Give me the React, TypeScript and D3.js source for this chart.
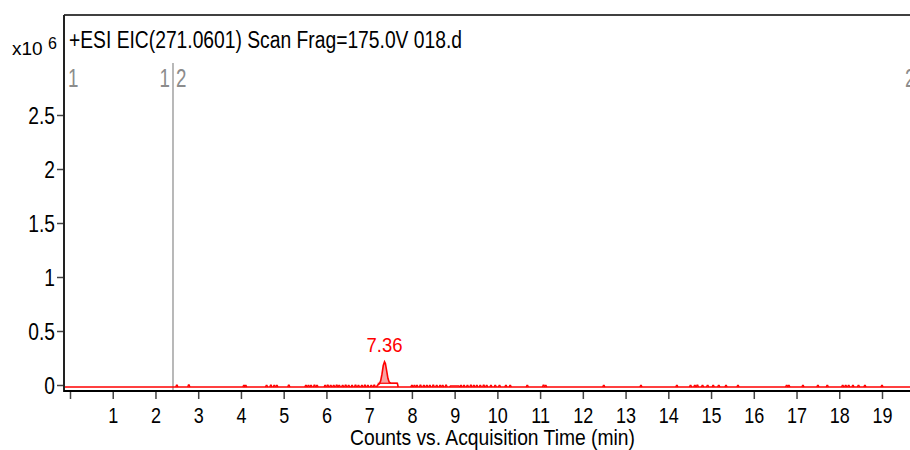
import React, { useEffect, useRef } from 'react';
import * as d3 from 'd3';

// retention time axis (min)
const xTickValues = [0, 1, 2, 3, 4, 5, 6, 7, 8, 9, 10, 11, 12, 13, 14, 15, 16, 17, 18, 19];
const xTickLabels = ['', '1', '2', '3', '4', '5', '6', '7', '8', '9', '10', '11', '12', '13', '14', '15', '16', '17', '18', '19'];

// counts axis (x10^6)
const yTickValues = [0, 0.5, 1, 1.5, 2, 2.5];
const yTickLabels = ['0', '0.5', '1', '1.5', '2', '2.5'];

const baselineLevel = -0.018;

// small noise spikes on the baseline (time, counts x10^6)
const noiseTimes = [
  2.5, 2.78, 4.07, 4.11, 4.6, 4.7, 4.78, 4.84, 5.12, 5.52, 5.58, 5.64, 5.72, 5.78,
  5.97, 6.03, 6.1, 6.17, 6.24, 6.3, 6.38, 6.45, 6.52, 6.6, 6.68, 6.75, 6.83, 6.9,
  6.97, 7.05, 7.12, 8.0, 8.06, 8.12, 8.2, 8.28, 8.35, 8.42, 8.5, 8.58, 8.66, 8.72,
  8.8, 9.15, 9.22, 9.3, 9.38, 9.45, 9.52, 9.6, 9.68, 9.75, 9.85, 9.95, 10.05, 10.2,
  10.3, 10.7, 11.08, 11.13, 12.49, 13.36, 14.2, 14.52, 14.62, 14.68, 14.8, 14.92,
  15.05, 15.18, 15.35, 15.63, 16.77, 16.82, 17.15, 17.5, 17.72, 18.08, 18.15, 18.22,
  18.32, 18.45, 18.6, 19.0,
];
const noiseCounts = [
  -0.002, 0.001, -0.003, -0.004, -0.004, -0.002, -0.003, -0.004, -0.002, -0.004, -0.003, -0.004, -0.002, -0.004,
  -0.004, -0.002, -0.003, -0.004, -0.002, -0.003, -0.004, -0.002, -0.003, -0.004, -0.002, -0.004, -0.003, -0.002,
  -0.004, -0.003, -0.002, -0.004, -0.003, -0.004, -0.002, -0.004, -0.003, -0.004, -0.002, -0.004, -0.003, -0.004,
  -0.002, -0.004, -0.003, -0.004, -0.002, -0.004, -0.003, -0.004, -0.002, -0.004, -0.003, -0.004, -0.003, -0.004,
  -0.004, -0.004, -0.002, -0.004, -0.004, -0.004, -0.004, -0.003, -0.004, -0.002, -0.004, -0.003,
  -0.004, -0.003, -0.004, -0.004, -0.003, -0.004, -0.004, -0.004, -0.004, -0.003, -0.004, -0.003,
  -0.004, -0.003, -0.004, -0.004,
];

// small raised shelf 8.9 - 9.1 min
const shelfTimes = [8.88, 8.9, 9.1, 9.12];
const shelfCounts = [-0.018, -0.008, -0.008, -0.018];

// the 7.36 min peak
const peakTimes = [7.17, 7.2, 7.24, 7.27, 7.3, 7.33, 7.36, 7.38, 7.41, 7.44, 7.47, 7.5, 7.66, 7.68];
const peakCounts = [-0.018, 0.0, 0.012, 0.04, 0.1, 0.18, 0.215, 0.2, 0.13, 0.06, 0.025, 0.018, 0.016, -0.018];
const integrationStart = 7.2;
const integrationEnd = 7.66;
const integrationLevel = 0.016;
const peakLabel = '7.36';
const peakApex = 7.36;

// MS segment boundary
const segmentBoundary = 2.41;

const font = "'Liberation Sans', Arial, sans-serif";

export default function App() {
  const svgRef = useRef<SVGSVGElement>(null);

  useEffect(() => {
    document.body.style.margin = '0';
    const svg = d3.select(svgRef.current);
    svg.selectAll('*').remove();

    const width = 910;
    const height = 450;
    const left = 64;
    const right = 916;
    const top = 15;
    const bottom = 391;

    const x = d3.scaleLinear().domain([0, 19]).range([70, 882]);
    const y = d3.scaleLinear().domain([0, 2.5]).range([385, 115]);

    svg.attr('width', width).attr('height', height).style('font-family', font);

    svg.append('rect').attr('width', width).attr('height', height).attr('fill', '#fff');

    svg.append('defs').append('clipPath').attr('id', 'plot-clip')
      .append('rect')
      .attr('x', left).attr('y', top)
      .attr('width', right - left).attr('height', bottom - top);

    const plot = svg.append('g').attr('clip-path', 'url(#plot-clip)');

    // condensed text: horizontal squeeze around the anchor point
    const narrowText = (
      parent: d3.Selection<any, unknown, null, undefined>,
      tx: number, ty: number, label: string, size: number, k: number,
      anchor = 'start', fill = '#000'
    ) =>
      parent.append('text')
        .attr('transform', `translate(${tx},${ty}) scale(${k},1)`)
        .attr('text-anchor', anchor)
        .attr('font-size', size)
        .attr('fill', fill)
        .text(label);

    // segment boundary
    plot.append('line')
      .attr('x1', x(segmentBoundary)).attr('x2', x(segmentBoundary))
      .attr('y1', 63).attr('y2', bottom)
      .attr('stroke', '#8a8a8a').attr('stroke-width', 1.2);

    const segGray = '#8c8c8c';
    narrowText(plot, left + 4, 87, '1', 25, 0.75, 'start', segGray);
    narrowText(plot, x(segmentBoundary) - 3, 87, '1', 25, 0.75, 'end', segGray);
    narrowText(plot, x(segmentBoundary) + 3, 87, '2', 25, 0.75, 'start', segGray);
    narrowText(plot, 905, 87, '2', 25, 0.75, 'start', segGray);

    // baseline trace
    plot.append('line')
      .attr('x1', left).attr('x2', right)
      .attr('y1', y(baselineLevel)).attr('y2', y(baselineLevel))
      .attr('stroke', 'red').attr('stroke-width', 1.6);

    const line = d3.line<[number, number]>()
      .x(d => x(d[0]))
      .y(d => y(d[1]));

    // noise spikes
    noiseTimes.forEach((t, i) => {
      const pts: [number, number][] = [
        [t - 0.025, baselineLevel],
        [t - 0.01, noiseCounts[i]],
        [t + 0.01, noiseCounts[i]],
        [t + 0.025, baselineLevel],
      ];
      plot.append('path')
        .attr('d', line(pts))
        .attr('fill', 'none')
        .attr('stroke', 'red')
        .attr('stroke-width', 1.3);
    });

    plot.append('path')
      .datum(shelfTimes.map((t, i) => [t, shelfCounts[i]] as [number, number]))
      .attr('d', line)
      .attr('fill', 'none')
      .attr('stroke', 'red')
      .attr('stroke-width', 1.3);

    // peak fill
    const peakPts = peakTimes.map((t, i) => [t, peakCounts[i]] as [number, number]);
    const fillPts = peakPts.filter(d => d[0] >= integrationStart && d[0] <= integrationEnd);
    const area = d3.area<[number, number]>()
      .x(d => x(d[0]))
      .y0(y(integrationLevel))
      .y1(d => y(Math.max(d[1], integrationLevel)));
    plot.append('path')
      .datum(fillPts)
      .attr('d', area)
      .attr('fill', '#f6a3a3');

    plot.append('line')
      .attr('x1', x(integrationStart)).attr('x2', x(integrationEnd))
      .attr('y1', y(integrationLevel)).attr('y2', y(integrationLevel))
      .attr('stroke', 'red').attr('stroke-width', 1.2);

    plot.append('path')
      .datum(peakPts)
      .attr('d', line)
      .attr('fill', 'none')
      .attr('stroke', 'red')
      .attr('stroke-width', 1.6);

    const apexIdx = d3.maxIndex(peakCounts);
    narrowText(plot, x(peakApex), y(peakCounts[apexIdx]) - 10, peakLabel, 21, 0.88, 'middle', 'red');

    // frame
    svg.append('line').attr('x1', left).attr('x2', width).attr('y1', top).attr('y2', top)
      .attr('stroke', '#000').attr('stroke-width', 1.5);
    svg.append('line').attr('x1', left).attr('x2', left).attr('y1', top).attr('y2', bottom + 1)
      .attr('stroke', '#222').attr('stroke-width', 2);
    svg.append('line').attr('x1', left).attr('x2', width).attr('y1', bottom).attr('y2', bottom)
      .attr('stroke', '#000').attr('stroke-width', 2);

    // x axis
    const xAxis = svg.append('g')
      .attr('transform', `translate(0,${bottom + 1})`)
      .call(
        d3.axisBottom(x)
          .tickValues(xTickValues)
          .tickSize(7)
          .tickFormat((d, i) => xTickLabels[i])
      );
    xAxis.select('.domain').remove();
    xAxis.selectAll('line').attr('stroke', '#444').attr('stroke-width', 1.5);
    xAxis.selectAll('text')
      .attr('y', null)
      .attr('dy', null)
      .attr('transform', 'translate(0,31) scale(0.8,1)')
      .attr('font-size', 22.5)
      .attr('font-family', font)
      .attr('fill', '#000');

    // y axis
    const yAxis = svg.append('g')
      .attr('transform', `translate(${left - 1},0)`)
      .call(
        d3.axisLeft(y)
          .tickValues(yTickValues)
          .tickSize(6)
          .tickFormat((d, i) => yTickLabels[i])
      );
    yAxis.select('.domain').remove();
    yAxis.selectAll('line').attr('stroke', '#444').attr('stroke-width', 1.5);
    yAxis.selectAll('text')
      .attr('x', null)
      .attr('dy', null)
      .attr('transform', 'translate(-8,8.5) scale(0.8,1)')
      .attr('font-size', 24)
      .attr('font-family', font)
      .attr('fill', '#000');

    // titles
    svg.append('text')
      .attr('x', 69).attr('y', 48)
      .attr('font-size', 23)
      .attr('textLength', 393)
      .attr('lengthAdjust', 'spacingAndGlyphs')
      .attr('fill', '#000')
      .text('+ESI EIC(271.0601) Scan Frag=175.0V 018.d');

    svg.append('text')
      .attr('x', 12).attr('y', 55)
      .attr('font-size', 19)
      .attr('fill', '#000')
      .text('x10');
    svg.append('text')
      .attr('x', 48).attr('y', 49)
      .attr('font-size', 16)
      .attr('fill', '#000')
      .text('6');

    svg.append('text')
      .attr('x', 350).attr('y', 445)
      .attr('font-size', 22)
      .attr('textLength', 285)
      .attr('lengthAdjust', 'spacingAndGlyphs')
      .attr('fill', '#000')
      .text('Counts vs. Acquisition Time (min)');
  }, []);

  return <svg ref={svgRef} style={{ display: 'block' }}></svg>;
}
